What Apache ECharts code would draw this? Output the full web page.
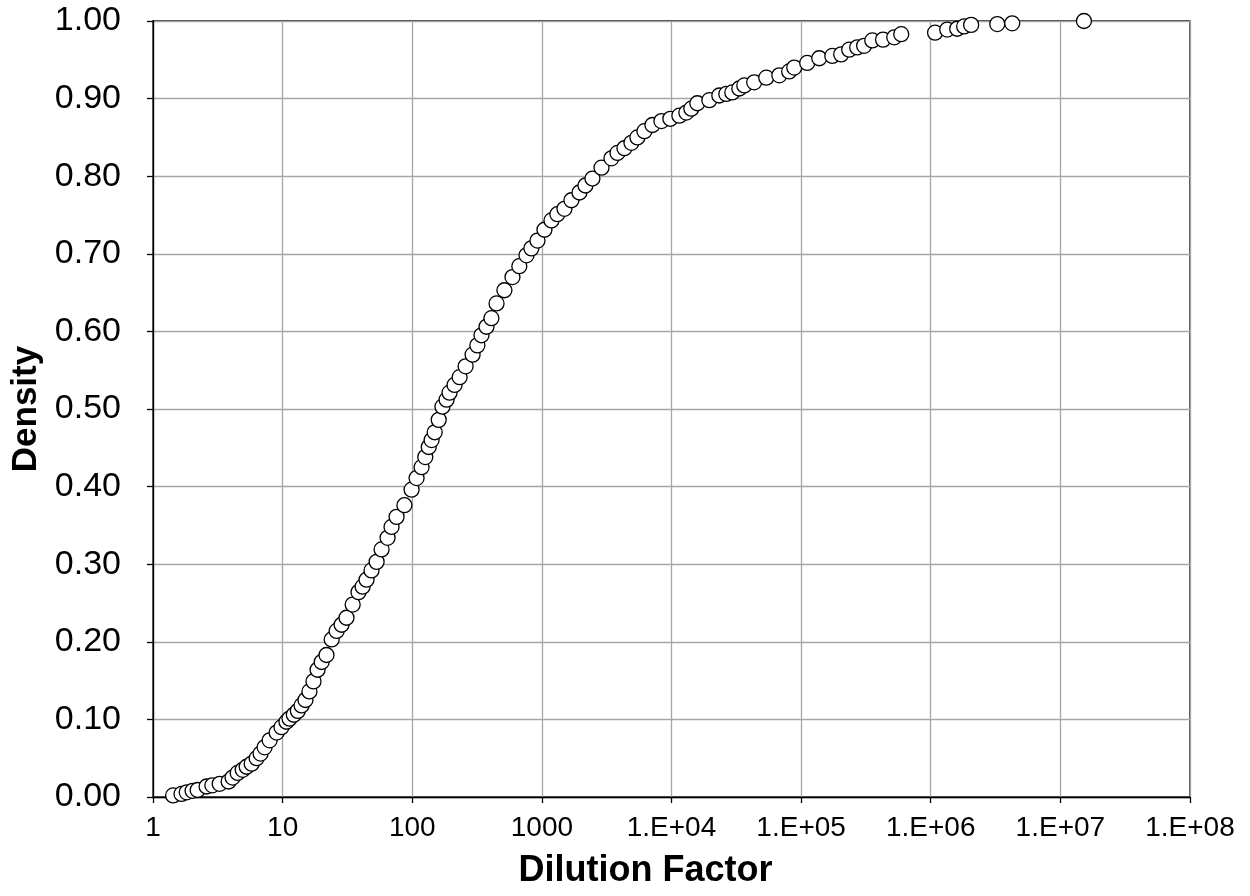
<!DOCTYPE html>
<html>
<head>
<meta charset="utf-8">
<script src="https://cdn.jsdelivr.net/npm/echarts@6/dist/echarts.min.js"></script>
<style>
html,body{margin:0;padding:0;background:#fff;}
#chart{width:1250px;height:896px;}
</style>
</head>
<body>
<div id="chart"></div>
<script>
// Dilution factor (x) and cumulative density (y)
const dilution = [
  1.43, 1.66, 1.82, 2.02, 2.21, 2.59, 2.87, 3.27, 3.83, 4.11, 4.50, 4.92, 5.28, 5.77, 6.3, 6.76, 7.26, 7.94, 8.99, 9.8,
  10.7, 11.3, 12.2, 13.1, 14.0, 15.0, 16.1, 17.3, 18.6, 20.0, 21.8, 23.9, 26.1, 28.5, 31.1, 34.7, 38.5, 41.4, 44.4, 48.5,
  53.1, 58.0, 64.5, 69.2, 75.7, 87, 98.8, 108, 118, 126, 134, 141, 149, 160, 171, 184, 194, 212, 232, 258,
  292, 318, 342, 374, 408, 447, 514, 593, 670, 761, 830, 925, 1047, 1186, 1318, 1493, 1690, 1950, 2168, 2455,
  2884, 3441, 3830, 4335, 4909, 5458, 6180, 7126, 8360, 9800, 11500, 13020, 14220, 15830, 19580, 23380, 26480, 29440, 33340, 36450,
  43450, 53850, 67900, 80900, 88500, 111400, 138000, 174000, 203700, 235000, 271000, 306200, 354000, 428500, 523000, 592000,
  1080000, 1340000, 1600000, 1810000, 2050000, 3260000, 4250000, 15200000
];
const density = [
  0.002, 0.004, 0.006, 0.008, 0.009, 0.0135, 0.015, 0.017, 0.020, 0.025, 0.031, 0.035, 0.039, 0.043, 0.050, 0.056, 0.064, 0.073, 0.083, 0.090,
  0.097, 0.101, 0.106, 0.111, 0.118, 0.125, 0.136, 0.149, 0.164, 0.174, 0.183, 0.203, 0.214, 0.222, 0.231, 0.248, 0.264, 0.271, 0.280, 0.292,
  0.303, 0.319, 0.334, 0.348, 0.361, 0.376, 0.396, 0.411, 0.425, 0.438, 0.451, 0.460, 0.470, 0.486, 0.503, 0.512, 0.521, 0.531, 0.541, 0.555,
  0.570, 0.582, 0.595, 0.606, 0.617, 0.636, 0.653, 0.670, 0.684, 0.698, 0.707, 0.717, 0.731, 0.743, 0.751, 0.758, 0.769, 0.779, 0.788, 0.797,
  0.811, 0.823, 0.830, 0.836, 0.843, 0.850, 0.858, 0.866, 0.871, 0.874, 0.878, 0.882, 0.887, 0.894, 0.898, 0.904, 0.906, 0.908, 0.913, 0.917,
  0.921, 0.927, 0.930, 0.935, 0.940, 0.946, 0.952, 0.955, 0.957, 0.963, 0.966, 0.968, 0.975, 0.976, 0.979, 0.983,
  0.985, 0.989, 0.990, 0.993, 0.995, 0.996, 0.997, 1.000
];
const xTitle = 'Dilution Factor';
const yTitle = 'Density';

function xLabel(v) {
  const e = Math.round(Math.log10(v));
  if (e <= 3) return String(Math.round(v));
  return '1.E+' + (e < 10 ? '0' + e : e);
}

const points = dilution.map((d, i) => [d, density[i]]);
const chart = echarts.init(document.getElementById('chart'), null, {renderer: 'canvas'});
const font = 'Liberation Sans, Arial, sans-serif';
chart.setOption({
  animation: false,
  backgroundColor: '#ffffff',
  grid: {left: 153, right: 60, top: 21, bottom: 99, show: true, borderColor: '#000', borderWidth: 1.3, containLabel: false},
  xAxis: {
    type: 'log', logBase: 10, min: 1, max: 1e8,
    name: xTitle, nameLocation: 'middle', nameGap: 56,
    nameTextStyle: {fontFamily: font, fontSize: 36, fontWeight: 'bold', color: '#000', padding: [0, 52, 0, 0]},
    axisLine: {show: true, onZero: false, lineStyle: {color: '#000', width: 1.3}},
    axisTick: {show: true, length: 6, lineStyle: {color: '#000', width: 1.3}},
    minorTick: {show: false},
    splitLine: {show: true, lineStyle: {color: '#a6a6a6', width: 1.3}},
    axisLabel: {fontFamily: font, fontSize: 28, color: '#000', margin: 17, formatter: xLabel}
  },
  yAxis: {
    type: 'value', min: 0, max: 1, interval: 0.1,
    name: yTitle, nameLocation: 'middle', nameGap: 108, nameRotate: 90,
    nameTextStyle: {fontFamily: font, fontSize: 35, fontWeight: 'bold', color: '#000'},
    axisLine: {show: true, onZero: false, lineStyle: {color: '#000', width: 1.3}},
    axisTick: {show: true, length: 6, lineStyle: {color: '#000', width: 1.3}},
    splitLine: {show: true, lineStyle: {color: '#a6a6a6', width: 1.3}},
    axisLabel: {fontFamily: font, fontSize: 34, color: '#000', margin: 32, formatter: v => v.toFixed(2)}
  },
  series: [{
    type: 'scatter',
    data: points,
    symbol: 'circle',
    symbolSize: 15,
    clip: false,
    itemStyle: {color: '#ffffff', borderColor: '#000000', borderWidth: 1.3, opacity: 1}
  }]
});
</script>
</body>
</html>
